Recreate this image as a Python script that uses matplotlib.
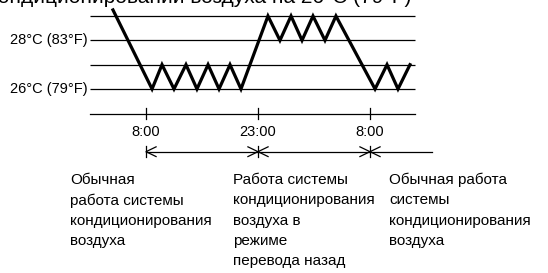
import numpy as np
import matplotlib.pyplot as plt

plt.rcParams['font.family'] = ['Liberation Sans', 'DejaVu Sans']

# temperature levels of the guide lines (°C)
levels = [26, 27, 28, 29]
level_labels = {28: "28°C (83°F)", 26: "26°C (79°F)"}

# room temperature path: position along the time scale (one tick = 1) and temperature
path_t = [-0.295, 0.054, 0.143, 0.25, 0.357, 0.455, 0.554, 0.652, 0.75, 0.848,
          1.089, 1.196, 1.295, 1.393, 1.491, 1.598, 1.696,
          2.045, 2.152, 2.25, 2.357]
path_temp = [29.25, 26, 27, 26, 27, 26, 27, 26, 27, 26,
             29, 28, 29, 28, 29, 28, 29,
             26, 27, 26, 27]

tick_pos = [0, 1, 2]
tick_labels = ["8:00", "23:00", "8:00"]

modes = [
    "Обычная\nработа системы\nкондиционирования\nвоздуха",
    "Работа системы\nкондиционирования\nвоздуха в\nрежиме\nперевода назад",
    "Обычная работа\nсистемы\nкондиционирования\nвоздуха",
]
title = "при кондиционировании воздуха на 26°C (79°F)"

W, H = 548, 273
fig = plt.figure(figsize=(W / 100, H / 100), dpi=100)
ax = fig.add_axes([0, 0, 1, 1])
ax.axis('off')

x0, sx = 146, 112.0      # pixel of first tick, pixels per tick step
y26, sy = 89, 24.33      # pixel of 26°C line, pixels per degree
ax.set_xlim((0 - x0) / sx, (W - x0) / sx)
ax.set_ylim(26 - (H - y26) / sy, 26 + y26 / sy)


def ypx(p):
    return 26 - (p - y26) / sy


def tx(p):
    return (p - x0) / sx


# guide lines
for lv in levels:
    ax.plot([tx(90), tx(415)], [lv, lv], color='black', lw=0.9, solid_capstyle='butt')
    if lv in level_labels:
        ax.text(tx(88), lv, level_labels[lv], ha='right', va='center', fontsize=10.5)

ax.plot(path_t, path_temp, color='black', lw=2.3, solid_joinstyle='miter')

# time axis
ya = ypx(113.7)
ax.plot([tx(90), tx(415)], [ya, ya], color='black', lw=0.9)
for t, lab in zip(tick_pos, tick_labels):
    ax.plot([t, t], [ypx(108), ypx(119)], color='black', lw=0.9)
    ax.text(t, ypx(132), lab, ha='center', va='center', fontsize=10.5)

# mode arrows
yb = ypx(151.7)
ends = tick_pos + [tx(432)]
ax.plot([ends[0], ends[-1]], [yb, yb], color='black', lw=0.9)
hx, hy = 0.09, 0.2
for i, t in enumerate(tick_pos):
    ax.plot([t, t], [yb - 0.22, yb + 0.22], color='black', lw=0.9)
    # arrow head pointing left (from the right segment)
    ax.plot([t + hx, t, t + hx], [yb + hy, yb, yb - hy], color='black', lw=0.9)
    if i > 0:
        ax.plot([t - hx, t, t - hx], [yb + hy, yb, yb - hy], color='black', lw=0.9)

# mode descriptions
col_x = [70, 233, 389]
for cx, txt in zip(col_x, modes):
    for j, line in enumerate(txt.split("\n")):
        ax.text(tx(cx), ypx(180 + 20.3 * j), line, ha='left', va='center', fontsize=11)

# heading, mostly outside the top edge as in the source image
ax.text(tx(411), ypx(2.5), title, ha='right', va='baseline', fontsize=15)

fig.savefig("out.png", dpi=100)
